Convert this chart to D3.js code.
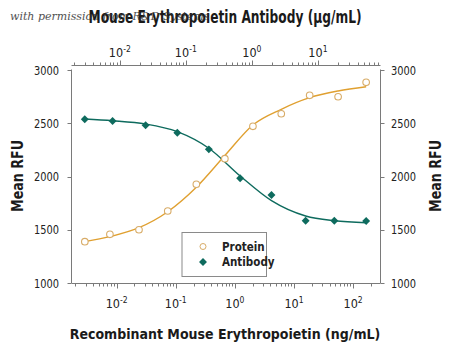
<!DOCTYPE html>
<html><head><meta charset="utf-8">
<script src="https://cdn.jsdelivr.net/npm/d3@7"></script>
<style>
html,body{margin:0;padding:0;background:#fff;}
svg{display:block;}
</style>
</head><body>
<svg id="chart" width="450" height="348"></svg>
<script>
// ---- data ----
const proteinConc = [0.0029, 0.0077, 0.0239, 0.0732, 0.223, 0.677, 2.02, 6.09, 18.4, 55.7, 166];
const proteinRFU  = [1388, 1457, 1500, 1676, 1927, 2167, 2471, 2589, 2762, 2749, 2884];
const proteinFit  = [1388, 1435, 1519, 1669, 1899, 2197, 2484, 2631, 2740, 2803, 2843];

const antibodyConc = [0.00295, 0.00778, 0.0246, 0.0743, 0.223, 0.664, 1.98, 6.51, 17.7, 53.7];
const antibodyRFU  = [2537, 2521, 2481, 2411, 2255, 1983, 1826, 1585, 1585, 1582];
const antibodyFit  = [2540, 2524, 2493, 2421, 2265, 2005, 1773, 1629, 1585, 1566];

const yTicks = [1000, 1500, 2000, 2500, 3000];
const bottomMajor = [-2, -1, 0, 1, 2];
const topMajor = [-2, -1, 0, 1];
const legendLabels = ["Protein", "Antibody"];

// ---- layout ----
const svg = d3.select("#chart");
const L = 71.5, R = 380.5, T = 70, B = 283, topAxisY = 65.5;
const condensed = "'Liberation Sans Narrow','DejaVu Sans Condensed','Roboto Condensed',sans-serif";
const orange = "#E0A030", orangePt = "#D8AC68", teal = "#0E6B5E";
const axisCol = "#7a7a7a";

const xB = d3.scaleLog().domain([Math.pow(10,-2.763), Math.pow(10,2.463)]).range([L, R]);
const xT = d3.scaleLog().domain([Math.pow(10,-2.731), Math.pow(10,1.947)]).range([L, R]);
const y = d3.scaleLinear().domain([1000, 3000]).range([B, T]);

// frame: left, right, bottom
svg.append("line").attr("x1", L).attr("x2", L).attr("y1", T-0.5).attr("y2", B).attr("stroke", axisCol);
svg.append("line").attr("x1", R).attr("x2", R).attr("y1", T-0.5).attr("y2", B).attr("stroke", axisCol);
svg.append("line").attr("x1", L).attr("x2", R).attr("y1", B+0.5).attr("y2", B+0.5).attr("stroke", axisCol);
svg.append("line").attr("x1", L).attr("x2", R).attr("y1", topAxisY).attr("y2", topAxisY).attr("stroke", axisCol);

// y ticks
yTicks.forEach(v => {
  const yy = Math.round(y(v)) + 0.5;
  svg.append("line").attr("x1", L-4).attr("x2", L).attr("y1", yy).attr("y2", yy).attr("stroke", axisCol);
  svg.append("line").attr("x1", R).attr("x2", R+4).attr("y1", yy).attr("y2", yy).attr("stroke", axisCol);
  svg.append("text").attr("x", 59).attr("y", y(v) + 4.5).attr("text-anchor", "end")
    .attr("font-family", condensed).attr("font-size", 12).attr("fill", "#222")
    .attr("textLength", 25).attr("lengthAdjust", "spacingAndGlyphs").text(v);
  svg.append("text").attr("x", 391).attr("y", y(v) + 4.5).attr("text-anchor", "start")
    .attr("font-family", condensed).attr("font-size", 12).attr("fill", "#222")
    .attr("textLength", 25).attr("lengthAdjust", "spacingAndGlyphs").text(v);
});

// log ticks
function logTicks(scale, yBase, dir) {
  scale.ticks().forEach(t => {
    const lg = Math.log10(t);
    const isMajor = Math.abs(lg - Math.round(lg)) < 1e-9;
    const xx = Math.round(scale(t)) + 0.5;
    const len = isMajor ? 5 : 3;
    svg.append("line").attr("x1", xx).attr("x2", xx).attr("y1", yBase).attr("y2", yBase + dir*len)
      .attr("stroke", axisCol);
  });
}
logTicks(xB, B+0.5, 1);
logTicks(xT, topAxisY, -1);

function expLabel(xx, yy, e) {
  const t = svg.append("text").attr("x", xx).attr("y", yy).attr("text-anchor", "middle")
    .attr("font-family", condensed).attr("font-size", 12.5).attr("fill", "#222");
  t.append("tspan").text("10");
  t.append("tspan").attr("dy", -5).attr("font-size", 8.5).text(e);
}
bottomMajor.forEach(e => expLabel(xB(Math.pow(10, e)), 308, e));
topMajor.forEach(e => expLabel(xT(Math.pow(10, e)), 57, e));

// curves
const lineB = d3.line().x(d => xB(d[0])).y(d => y(d[1])).curve(d3.curveMonotoneX);
const lineT = d3.line().x(d => xT(d[0])).y(d => y(d[1])).curve(d3.curveMonotoneX);
svg.append("path").attr("d", lineB(d3.zip(proteinConc, proteinFit)))
  .attr("fill", "none").attr("stroke", orange).attr("stroke-width", 1.4);
svg.append("path").attr("d", lineT(d3.zip(antibodyConc, antibodyFit)))
  .attr("fill", "none").attr("stroke", teal).attr("stroke-width", 1.4);

// points
svg.selectAll(".pp").data(d3.zip(proteinConc, proteinRFU)).enter().append("circle")
  .attr("cx", d => xB(d[0])).attr("cy", d => y(d[1])).attr("r", 3.3)
  .attr("fill", "#fff").attr("stroke", orangePt).attr("stroke-width", 1.1);
const diamond = d3.symbol().type(d3.symbolDiamond2).size(40);
svg.selectAll(".ap").data(d3.zip(antibodyConc, antibodyRFU)).enter().append("path")
  .attr("d", diamond).attr("transform", d => `translate(${xT(d[0])},${y(d[1])})`)
  .attr("fill", teal);

// legend
svg.append("rect").attr("x", 182).attr("y", 232.5).attr("width", 84.5).attr("height", 44)
  .attr("fill", "#fff").attr("stroke", "#8a8a8a").attr("stroke-width", 1);
svg.append("circle").attr("cx", 203).attr("cy", 246.5).attr("r", 3)
  .attr("fill", "#fff").attr("stroke", orangePt).attr("stroke-width", 1);
svg.append("path").attr("d", diamond).attr("transform", "translate(203,262)").attr("fill", teal);
legendLabels.forEach((lab, i) => {
  svg.append("text").attr("x", 222).attr("y", 250.5 + i*15.5).attr("font-family", condensed)
    .attr("font-size", 11.5).attr("font-weight", "bold").attr("fill", "#222").text(lab);
});

// axis titles
svg.append("text").attr("x", 225).attr("y", 23).attr("text-anchor", "middle")
  .attr("font-family", condensed).attr("font-weight", "bold").attr("font-size", 18).attr("fill", "#1a1a1a")
  .attr("textLength", 273).attr("lengthAdjust", "spacingAndGlyphs")
  .text("Mouse Erythropoietin Antibody (\u03BCg/mL)");
svg.append("text").attr("x", 225).attr("y", 339).attr("text-anchor", "middle")
  .attr("font-family", condensed).attr("font-weight", "bold").attr("font-size", 14).attr("fill", "#1a1a1a")
  .text("Recombinant Mouse Erythropoietin (ng/mL)");
svg.append("text").attr("transform", "translate(23,176) rotate(-90)").attr("text-anchor", "middle")
  .attr("font-family", condensed).attr("font-weight", "bold").attr("font-size", 16).attr("fill", "#1a1a1a")
  .attr("textLength", 72).attr("lengthAdjust", "spacingAndGlyphs")
  .text("Mean RFU");
svg.append("text").attr("transform", "translate(441,176) rotate(-90)").attr("text-anchor", "middle")
  .attr("font-family", condensed).attr("font-weight", "bold").attr("font-size", 16).attr("fill", "#1a1a1a")
  .attr("textLength", 72).attr("lengthAdjust", "spacingAndGlyphs")
  .text("Mean RFU");

// watermark
svg.append("text").attr("x", 10).attr("y", 20).attr("font-family", "'DejaVu Serif','Liberation Serif',serif")
  .attr("font-style", "italic").attr("font-size", 11).attr("fill", "#333").attr("opacity", 0.85)
  .text("with permission from R&D Systems");
</script>
</body></html>
